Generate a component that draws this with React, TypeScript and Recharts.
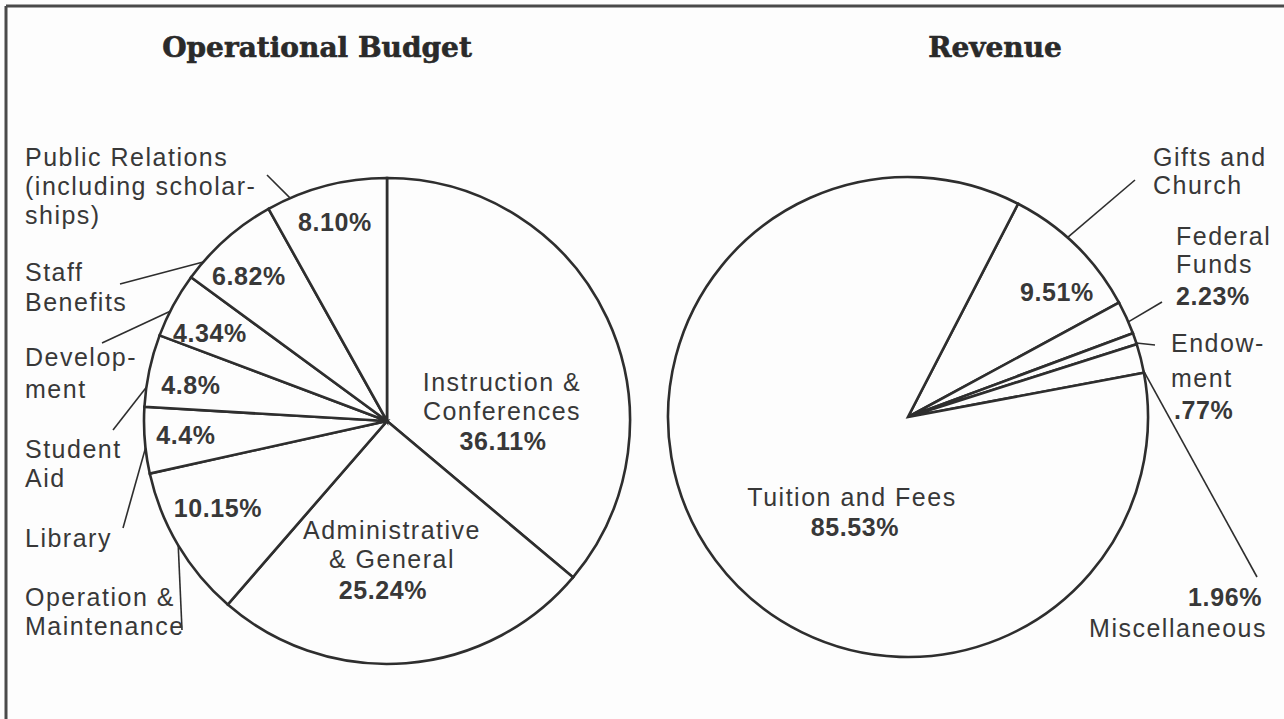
import React from "react";
import { PieChart, Pie, Cell } from "recharts";

// ---------- data ----------
const budgetNames = [
  "Instruction & Conferences",
  "Administrative & General",
  "Operation & Maintenance",
  "Library",
  "Student Aid",
  "Development",
  "Staff Benefits",
  "Public Relations (including scholarships)",
];
const budgetValues = [36.11, 25.24, 10.15, 4.4, 4.8, 4.34, 6.82, 8.1];
const budgetPctLabels = ["36.11%", "25.24%", "10.15%", "4.4%", "4.8%", "4.34%", "6.82%", "8.10%"];
const budgetNameLines = [
  ["Instruction &", "Conferences"],
  ["Administrative", "& General"],
  ["Operation &", "Maintenance"],
  ["Library"],
  ["Student", "Aid"],
  ["Develop-", "ment"],
  ["Staff", "Benefits"],
  ["Public Relations", "(including scholar-", "ships)"],
];

const revenueNames = ["Gifts and Church", "Federal Funds", "Endowment", "Miscellaneous", "Tuition and Fees"];
const revenueValues = [9.51, 2.23, 0.77, 1.96, 85.53];
const revenuePctLabels = ["9.51%", "2.23%", ".77%", "1.96%", "85.53%"];
const revenueNameLines = [
  ["Gifts and", "Church"],
  ["Federal", "Funds"],
  ["Endow-", "ment"],
  ["Miscellaneous"],
  ["Tuition and Fees"],
];

const titles = ["Operational Budget", "Revenue"];

// ---------- layout (positions only) ----------
type Anchor = "start" | "middle" | "end";
type Layout = {
  name: { x: number; y: number; gap: number; anchor: Anchor };
  pct: { x: number; y: number; anchor: Anchor };
  leader?: { off: number; ex: number; ey: number };
};

const budgetLayout: Layout[] = [
  { name: { x: 502, y: 382, gap: 29, anchor: "middle" }, pct: { x: 503, y: 441, anchor: "middle" } },
  { name: { x: 392, y: 530, gap: 29, anchor: "middle" }, pct: { x: 383, y: 590, anchor: "middle" } },
  { name: { x: 25, y: 597, gap: 29, anchor: "start" }, pct: { x: 218, y: 508, anchor: "middle" }, leader: { off: 0, ex: 182, ey: 630 } },
  { name: { x: 25, y: 538, gap: 29, anchor: "start" }, pct: { x: 186, y: 435, anchor: "middle" }, leader: { off: 1.8, ex: 123, ey: 528 } },
  { name: { x: 25, y: 449, gap: 29, anchor: "start" }, pct: { x: 191, y: 385, anchor: "middle" }, leader: { off: 4, ex: 113, ey: 430 } },
  { name: { x: 25, y: 357, gap: 32, anchor: "start" }, pct: { x: 210, y: 333, anchor: "middle" }, leader: { off: 1.6, ex: 102, ey: 343 } },
  { name: { x: 25, y: 272, gap: 30, anchor: "start" }, pct: { x: 249, y: 276, anchor: "middle" }, leader: { off: 7.7, ex: 120, ey: 284 } },
  { name: { x: 25, y: 157, gap: 29, anchor: "start" }, pct: { x: 335, y: 222, anchor: "middle" }, leader: { off: 8.9, ex: 267, ey: 175 } },
];

const revenueLayout: Layout[] = [
  { name: { x: 1153, y: 157, gap: 28, anchor: "start" }, pct: { x: 1057, y: 292, anchor: "middle" }, leader: { off: 2.8, ex: 1135, ey: 180 } },
  { name: { x: 1176, y: 236, gap: 28, anchor: "start" }, pct: { x: 1176, y: 296, anchor: "start" }, leader: { off: -1.1, ex: 1162, ey: 302 } },
  { name: { x: 1171, y: 343, gap: 35, anchor: "start" }, pct: { x: 1174, y: 410, anchor: "start" }, leader: { off: -1.1, ex: 1155, ey: 345 } },
  { name: { x: 1267, y: 628, gap: 29, anchor: "end" }, pct: { x: 1262, y: 597, anchor: "end" }, leader: { off: -3, ex: 1257, ey: 577 } },
  { name: { x: 852, y: 497, gap: 29, anchor: "middle" }, pct: { x: 855, y: 527, anchor: "middle" } },
];

const INK = "#2e2e2e";
const TEXT = "#383838";
const FONT = "'Liberation Sans', Arial, Helvetica, sans-serif";
const RAD = Math.PI / 180;

const budgetData = budgetNames.map((name, i) => ({ name, value: budgetValues[i] }));
const revenueData = revenueNames.map((name, i) => ({ name, value: revenueValues[i] }));

function makeLabel(nameLines: string[][], pcts: string[], layout: Layout[]) {
  return (props: any) => {
    const { cx, cy, midAngle, outerRadius, index } = props;
    const L = layout[index];
    if (!L) return null;
    const lines = nameLines[index];
    let leader = null;
    if (L.leader) {
      const a = (midAngle + L.leader.off) * RAD;
      const rx = cx + outerRadius * Math.cos(a);
      const ry = cy - outerRadius * Math.sin(a);
      leader = <line x1={rx} y1={ry} x2={L.leader.ex} y2={L.leader.ey} stroke={INK} strokeWidth={1.6} />;
    }
    return (
      <g key={`lbl-${index}`}>
        {leader}
        {lines.map((t, i) => (
          <text
            key={i}
            x={L.name.x}
            y={L.name.y + i * L.name.gap}
            textAnchor={L.name.anchor}
            dominantBaseline="central"
            fontFamily={FONT}
            fontSize={25}
            letterSpacing={1.5}
            fill={TEXT}
          >
            {t}
          </text>
        ))}
        <text
          x={L.pct.x}
          y={L.pct.y}
          textAnchor={L.pct.anchor}
          dominantBaseline="central"
          fontFamily={FONT}
          fontSize={25}
          fontWeight="bold"
          letterSpacing={0.6}
          fill={TEXT}
        >
          {pcts[index]}
        </text>
      </g>
    );
  };
}

export default function App() {
  return (
    <div style={{ position: "absolute", left: 0, top: 0, width: 1284, height: 719, background: "#fdfdfd" }}>
      <PieChart width={1284} height={719} margin={{ top: 0, right: 0, bottom: 0, left: 0 }}>
        <Pie
          data={budgetData}
          dataKey="value"
          nameKey="name"
          cx={387}
          cy={421}
          outerRadius={243}
          startAngle={90}
          endAngle={-270}
          stroke={INK}
          strokeWidth={2.6}
          isAnimationActive={false}
          labelLine={false}
          label={makeLabel(budgetNameLines, budgetPctLabels, budgetLayout)}
        >
          {budgetData.map((d, i) => (
            <Cell key={i} fill="#fdfdfd" />
          ))}
        </Pie>
        <Pie
          data={revenueData}
          dataKey="value"
          nameKey="name"
          cx={908}
          cy={417}
          outerRadius={240}
          startAngle={62.7}
          endAngle={-297.3}
          stroke={INK}
          strokeWidth={2.6}
          isAnimationActive={false}
          labelLine={false}
          label={makeLabel(revenueNameLines, revenuePctLabels, revenueLayout)}
        >
          {revenueData.map((d, i) => (
            <Cell key={i} fill="#fdfdfd" />
          ))}
        </Pie>
        <text x={317} y={47} textAnchor="middle" dominantBaseline="central" fontFamily="'DejaVu Serif', serif" fontWeight="bold" fontSize={28} fill="#2a2a2a" stroke="#2a2a2a" strokeWidth={0.6}>
          {titles[0]}
        </text>
        <text x={995} y={47} textAnchor="middle" dominantBaseline="central" fontFamily="'DejaVu Serif', serif" fontWeight="bold" fontSize={28} fill="#2a2a2a" stroke="#2a2a2a" strokeWidth={0.6}>
          {titles[1]}
        </text>
        <line x1={6} y1={6} x2={1284} y2={6} stroke="#4a4a4a" strokeWidth={3} />
        <line x1={6} y1={6} x2={6} y2={719} stroke="#4a4a4a" strokeWidth={3} />
      </PieChart>
    </div>
  );
}
